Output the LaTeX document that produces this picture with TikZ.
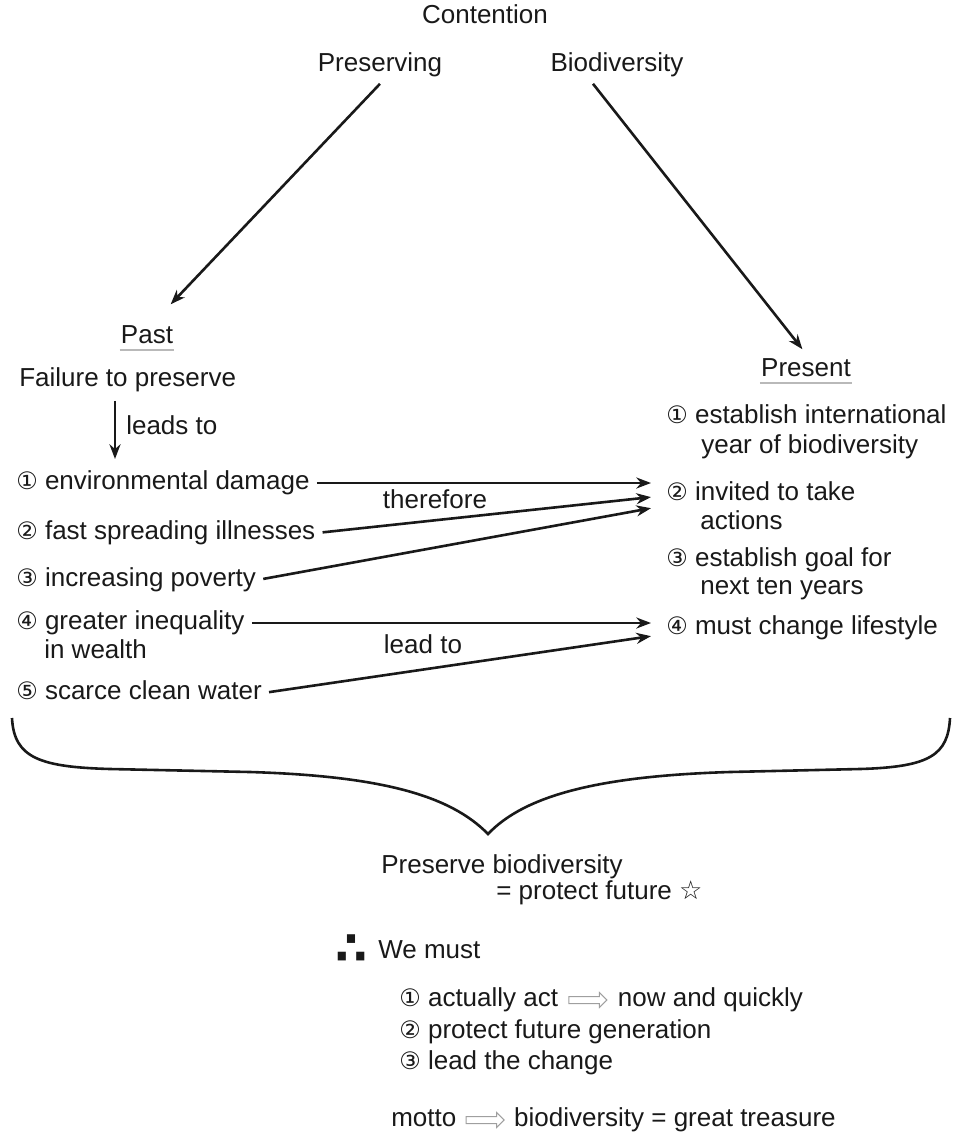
\documentclass[tikz,border=0pt]{standalone}
\usepackage{fontspec}
\setmainfont{Liberation Sans}
\newfontfamily\symfont{DejaVu Sans}
\usetikzlibrary{positioning,arrows.meta,shapes.arrows}
\newcommand{\cnum}[1]{{\symfont\fontsize{24}{28}\selectfont #1}}

\begin{document}
\begin{tikzpicture}[x=1pt,y=-1pt,->,>=Stealth,shorten >=1pt,
            line width=2.6pt,draw=black!90,
            every node/.style={font=\fontsize{26}{30}\selectfont,text=black!90,
                inner sep=0pt,text height=18pt,text depth=5pt},
            item/.style={anchor=west},
            uline/.style={-,draw=gray!55,line width=2.2pt,shorten >=0pt},
            hollow/.style={single arrow,draw=gray!75,line width=1pt,
                text height=0pt,text depth=0pt,inner sep=3pt,
                minimum height=38pt,single arrow head extend=4pt}]
        \useasboundingbox (0,0) rectangle (955,1135);

        % Title
        \node (cont) at (485,17) {Contention};
        \node (pres) at (380,65) {Preserving};
        \node (bio) at (617,65) {Biodiversity};

        % Past side
        \node (past) at (147,337) {Past};
        \node[item] (fail) at (18,380) {Failure to preserve};
        \node[item] (leads) at (125,428) {leads to};
        \node[item] (env) at (15,483) {\cnum{①} environmental damage};
        \node[item] (ill) at (15,533) {\cnum{②} fast spreading illnesses};
        \node[item] (pov) at (15,580) {\cnum{③} increasing poverty};
        \node[item] (ineq) at (15,623) {\cnum{④} greater inequality};
        \node[item] (ineq2) at (43,652) {in wealth};
        \node[item] (water) at (15,693) {\cnum{⑤} scarce clean water};
        \node (therefore) at (435,502) {therefore};
        \node (leadto) at (423,647) {lead to};

        % Present side
        \node (present) at (806,370) {Present};
        \node[item] (est) at (665,417) {\cnum{①} establish international};
        \node[item] (est2) at (700,447) {year of biodiversity};
        \node[item] (inv) at (665,494) {\cnum{②} invited to take};
        \node[item] (inv2) at (699,523) {actions};
        \node[item] (goal) at (665,560) {\cnum{③} establish goal for};
        \node[item] (goal2) at (699,588) {next ten years};
        \node[item] (life) at (665,628) {\cnum{④} must change lifestyle};

        % Conclusion
        \node[item] (pbio) at (380,867) {Preserve biodiversity};
        \node[item] (pfut) at (495,893) {= protect future {\symfont☆}};
        \node (thus) at (351,958) {\symfont\bfseries\fontsize{46}{46}\selectfont ∴};
        \node[item] (must) at (377,952) {We must};
        \node[item] (act) at (398,1000) {\cnum{①} actually act};
        \node[hollow,right=9pt of act] (arr1) {};
        \node[item,right=9pt of arr1] (quick) {now and quickly};
        \node[item] (gen) at (398,1032) {\cnum{②} protect future generation};
        \node[item] (chg) at (398,1063) {\cnum{③} lead the change};
        \node[item] (motto) at (390,1120) {motto};
        \node[hollow,right=8pt of motto] (arr2) {};
        \node[item,right=8pt of arr2] (treas) {biodiversity = great treasure};

        % Arrow ends
        \coordinate (pastend) at (170,305);
        \coordinate (presend) at (803,350);
        \coordinate (leadend) at (115,460);
        \coordinate (inA) at (652,483);
        \coordinate (inB) at (652,497);
        \coordinate (inC) at (652,508);
        \coordinate (lsA) at (652,623);
        \coordinate (lsB) at (652,636);

        % Draw edges
        \draw ([yshift=-6pt]pres.south) -- (pastend);
        \draw ([xshift=-24pt,yshift=-6pt]bio.south) -- (presend);
        \draw[shorten <=8pt] (fail.south -| leadend) -- (leadend);
        \draw[shorten <=6pt] (env.east) -- (inA);
        \draw[shorten <=6pt] (ill.east) -- (inB);
        \draw[shorten <=6pt] (pov.east) -- (inC);
        \draw[shorten <=6pt] (ineq.east) -- (lsA);
        \draw[shorten <=6pt] (water.east) -- (lsB);

        % Underlines
        \draw[uline] (past.south west) -- (past.south east);
        \draw[uline] (present.south west) -- (present.south east);

        % Brace
        \draw[-,shorten >=0pt] (12,718) .. controls (14,758) and (40,767) .. (110,769)
            -- (250,772) .. controls (380,776) and (450,795) .. (488,834)
            .. controls (525,795) and (600,776) .. (730,772)
            -- (860,769) .. controls (930,767) and (948,755) .. (950,718);

\end{tikzpicture}
\end{document}
